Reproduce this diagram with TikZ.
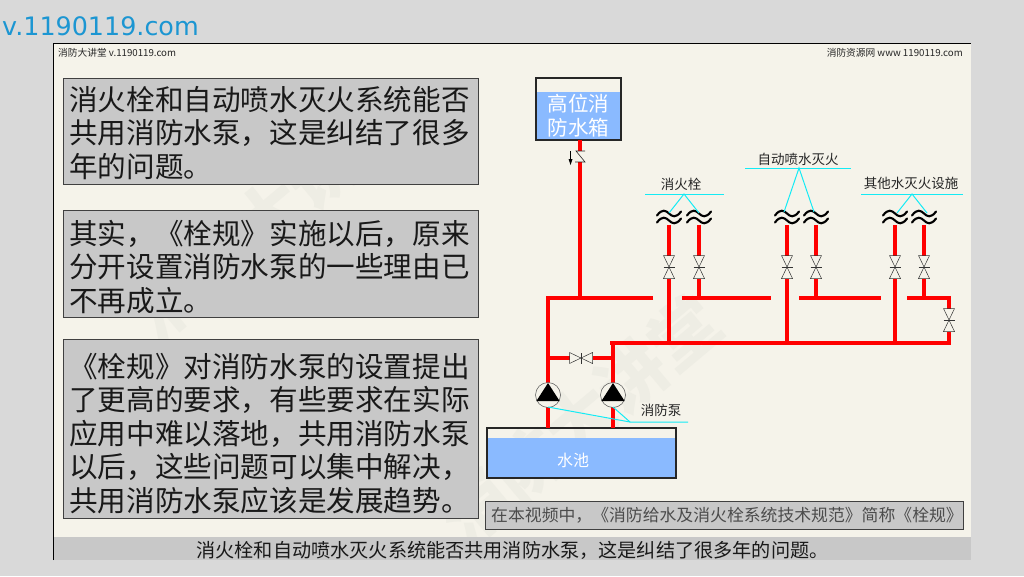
\documentclass[tikz,border=0pt]{standalone}
\usepackage{fontspec}
\setmainfont{Liberation Sans}
\newfontfamily\cjk{Noto Sans CJK SC}
\newfontfamily\urlfont{DejaVu Sans}
\usetikzlibrary{calc,positioning}
\definecolor{PageGrey}{RGB}{217,217,217}
\definecolor{PaperBg}{RGB}{245,243,234}
\definecolor{BoxGrey}{RGB}{200,200,200}
\definecolor{WaterBlue}{RGB}{138,186,255}
\definecolor{UrlBlue}{RGB}{28,150,210}
\definecolor{MarkGrey}{RGB}{238,237,228}
\definecolor{LeadCyan}{RGB}{20,235,245}
\tikzset{
  pipe/.style={draw=red,line width=3.2pt},
  leader/.style={draw=LeadCyan,line width=1pt},
  textbox/.style={draw=black!75,fill=BoxGrey,line width=0.8pt},
  bigtext/.style={font=\cjk\fontsize{28.6}{33.4}\selectfont,align=left,anchor=north west,inner sep=0pt,text=black!90},
  smalltag/.style={font=\cjk\fontsize{13.5}{15}\selectfont,inner sep=0pt,text=black!85},
  toptag/.style={font=\cjk\fontsize{9.7}{11}\selectfont,inner sep=0pt,text=black!85},
  watertext/.style={font=\cjk\fontsize{20.5}{24}\selectfont,align=center,inner sep=0pt,text=white},
  watermark/.style={font=\cjk\bfseries\fontsize{68}{68}\selectfont,text=MarkGrey,inner sep=0pt,rotate=40}
}
% one gate valve, drawn upright or turned with rotate
\newcommand{\gatevalve}[3][0]{
  \fill[PaperBg,rotate around={#1:(#2,#3)}] ($(#2,#3)+(-5.5,-11.5)$) rectangle ($(#2,#3)+(5.5,11.5)$);
  \draw[black!80,line width=0.5pt,rotate around={#1:(#2,#3)}] ($(#2,#3)+(-5.5,-11.5)$)--($(#2,#3)+(5.5,-11.5)$)--($(#2,#3)+(-5.5,11.5)$)--($(#2,#3)+(5.5,11.5)$)--cycle;
  \draw[black!80,line width=0.5pt,rotate around={#1:(#2,#3)}] ($(#2,#3)+(-5.5,0)$)--($(#2,#3)+(5.5,0)$);
}
% the two wavy lines that end a branch
\newcommand{\pipebreak}[2]{
  \foreach \dy in {-3.5,3.5}
    \draw[black,line width=2.1pt,line cap=round] (#1-12,#2+\dy+2) .. controls (#1-7,#2+\dy-5) and (#1-3,#2+\dy-3) .. (#1,#2+\dy) .. controls (#1+3,#2+\dy+3) and (#1+7,#2+\dy+5) .. (#1+12,#2+\dy-2);
}
\begin{document}
\begin{tikzpicture}[x=1pt,y=-1pt,line cap=butt]
\useasboundingbox (0,0) rectangle (1024,576);
\fill[PageGrey] (0,0) rectangle (1024,576);
\node[font=\urlfont\fontsize{25.4}{29}\selectfont,text=UrlBlue,anchor=west,inner sep=0pt] (site) at (2,26) {v.1190119.com};
\fill[PaperBg] (53,43) rectangle (971,560);
\begin{scope}
\clip (53,43) rectangle (971,537);
\node[watermark] (markA) at (270,215) {消防大讲堂};
\node[watermark] (markB) at (580,420) {消防大讲堂};
\end{scope}
\fill[BoxGrey] (53,537) rectangle (971,560);
\draw[black,line width=1pt] (53,560)--(53,43.5)--(971,43.5);
\node[toptag,anchor=west] (tagL) at (58,53) {消防大讲堂 v.1190119.com};
\node[toptag,anchor=east] (tagR) at (963,53) {消防资源网 www 1190119.com};

% left text boxes
\draw[textbox] (63.5,78.5) rectangle (478,184);
\draw[textbox] (63.5,210.5) rectangle (478,317);
\draw[textbox] (63.5,339.5) rectangle (478,518);
\node[bigtext] (txtA) at (69,86) {消火栓和自动喷水灭火系统能否\\共用消防水泵，这是纠结了很多\\年的问题。};
\node[bigtext] (txtB) at (69,220) {其实，《栓规》实施以后，原来\\分开设置消防水泵的一些理由已\\不再成立。};
\node[bigtext] (txtC) at (69,353) {《栓规》对消防水泵的设置提出\\了更高的要求，有些要求在实际\\应用中难以落地，共用消防水泵\\以后，这些问题可以集中解决，\\共用消防水泵应该是发展趋势。};
\draw[textbox] (485.5,501.5) rectangle (963,529);
\node[font=\cjk\fontsize{16.84}{18}\selectfont,text=black!70,inner sep=0pt] (note) at (727,515) {在本视频中，《消防给水及消火栓系统技术规范》简称《栓规》};
\node[font=\cjk\fontsize{19.15}{21}\selectfont,text=black!90,inner sep=0pt] (caption) at (512.5,550) {消火栓和自动喷水灭火系统能否共用消防水泵，这是纠结了很多年的问题。};

% tank and pool
\fill[WaterBlue] (536,92) rectangle (621,140);
\draw[black!85,line width=1.1pt] (536,78) rectangle (621,140);
\node[watertext] (tank) at (578.5,116) {高位消\\防水箱};
\fill[WaterBlue] (487,438) rectangle (676,478);
\draw[black!85,line width=1.1pt] (487,428) rectangle (676,478);
\node[font=\cjk\fontsize{16}{18}\selectfont,text=white,inner sep=0pt] (pool) at (573,460) {水池};

% pipes
\coordinate (rt) at (580,140); \coordinate (rb) at (580,298);
\coordinate (ml) at (548,298); \coordinate (mr) at (653,298);
\coordinate (pa) at (548,428); \coordinate (pb) at (613,428); \coordinate (pc) at (613,343);
\coordinate (ma) at (610,343); \coordinate (me) at (951,343);
\draw[pipe] (rt)--(rb);
\draw[pipe] (mr)--(ml)--(pa);
\draw[pipe] (pb)--(pc);
\draw[pipe] (ma)--(me);
\draw[pipe] (548,358)--(613,358);
\draw[pipe] (682,298)--(771,298);
\draw[pipe] (799,298)--(881,298);
\draw[pipe] (907,298)--(949,298)--(949,343);
\foreach \xa in {669,787,895} \draw[pipe] (\xa,225)--(\xa,343);
\foreach \xb in {699,816,924} \draw[pipe] (\xb,225)--(\xb,298);

% valves
\foreach \xv in {669,699,787,816,895,924} {\gatevalve{\xv}{267}}
\gatevalve{949}{320}
\gatevalve[90]{581}{358}

% check valve on the riser
\fill[PaperBg] (575,151) rectangle (586,162);
\draw[black!85,line width=0.6pt] (585,151)--(576,151)--(585,162)--(575,162);
\draw[black,line width=0.7pt] (570.5,151)--(570.5,161);
\fill[black] (568.5,159)--(572.5,159)--(570.5,165)--cycle;

% pumps
\foreach \xp in {548,613} {
  \draw[black!70,fill=PaperBg,line width=0.5pt] (\xp,395) circle (12.5);
  \fill[black] (\xp,383)--(\xp+11.6,401)--(\xp-11.6,401)--cycle;
}

% branch ends
\foreach \xw in {669,699,787,816,895,924} {\pipebreak{\xw}{217}}

% labels and leaders
\node[smalltag] (hyd) at (681,184) {消火栓};
\node[smalltag] (spr) at (798,159) {自动喷水灭火};
\node[smalltag] (oth) at (911,183) {其他水灭火设施};
\node[smalltag] (pmp) at (661,410) {消防泵};
\draw[leader] (645,194)--(724,194);
\draw[leader] (669,213)--(684,194)--(699,213);
\draw[leader] (745,168)--(851,168);
\draw[leader] (784,212)--(799,168)--(814,212);
\draw[leader] (861,194)--(963,194);
\draw[leader] (897,213)--(912,194)--(927,213);
\draw[leader] (548,407)--(630,422)--(688,422);
\draw[leader] (613,407)--(630,422);
\end{tikzpicture}
\end{document}
